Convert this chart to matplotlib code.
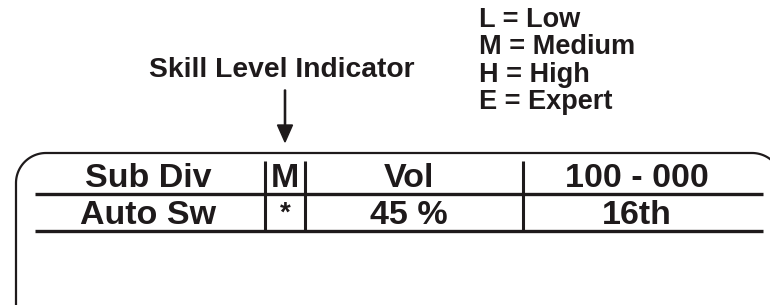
import numpy as np
import matplotlib
matplotlib.use("Agg")
import matplotlib.pyplot as plt

# Table contents
row_labels = ["Sub Div", "Auto Sw"]
skill_marks = ["M", "*"]
param_names = ["Vol", "45 %"]
param_values = ["100 - 000", "16th"]
legend_lines = ["L = Low", "M = Medium", "H = High", "E = Expert"]
indicator_title = "Skill Level Indicator"

INK = "#1e1a1b"
FONT = "Liberation Sans"

fig = plt.figure(figsize=(7.7, 3.05), dpi=100)
ax = fig.add_axes([0, 0, 1, 1])
ax.set_xlim(0, 770)
ax.set_ylim(305, 0)
ax.axis("off")

# display frame with rounded top corners
r = 30
left, top, right = 16, 153, 782
t = np.linspace(np.pi, 1.5 * np.pi, 30)
lx = left + r + r * np.cos(t)
ly = top + r + r * np.sin(t)
t2 = np.linspace(1.5 * np.pi, 2 * np.pi, 30)
rx = right - r + r * np.cos(t2)
ry = top + r + r * np.sin(t2)
fx = np.concatenate([[left], lx, rx, [right]])
fy = np.concatenate([[310], ly, ry, [310]])
ax.plot(fx, fy, color=INK, lw=1.6, solid_capstyle="butt")

# table rules
row_lines = [193.5, 231]
for y in row_lines:
    ax.plot([35, 763], [y, y], color=INK, lw=2.4, solid_capstyle="butt")
col_lines = [265, 305, 523]
for x in col_lines:
    ax.plot([x, x], [161, 231], color=INK, lw=2.2, solid_capstyle="butt")

# cell text
row_base = [187, 224]
col_centers = [148, 285, 409, 637]
txt = dict(fontsize=24.5, fontweight="bold", family=FONT, color=INK,
           ha="center", va="baseline")
for i, yb in enumerate(row_base):
    cells = [row_labels[i], skill_marks[i], param_names[i], param_values[i]]
    for xc, s in zip(col_centers, cells):
        if s == "*":
            ax.text(xc, yb - 3, s, **{**txt, "fontsize": 20})
        else:
            ax.text(xc, yb, s, **txt)

# skill level indicator + arrow
ax.text(282, 77, indicator_title, fontsize=20.3, fontweight="bold", family=FONT,
        color=INK, ha="center", va="baseline")
ax.arrow(285, 90, 0, 52, width=1.2, head_width=15, head_length=17,
         length_includes_head=True, color=INK)

# legend
leg_base = [27, 54, 81.5, 109]
for yb, s in zip(leg_base, legend_lines):
    ax.text(479, yb, s, fontsize=19.5, fontweight="bold", family=FONT,
            color=INK, ha="left", va="baseline")

fig.savefig("out.png", dpi=100, facecolor="white")
